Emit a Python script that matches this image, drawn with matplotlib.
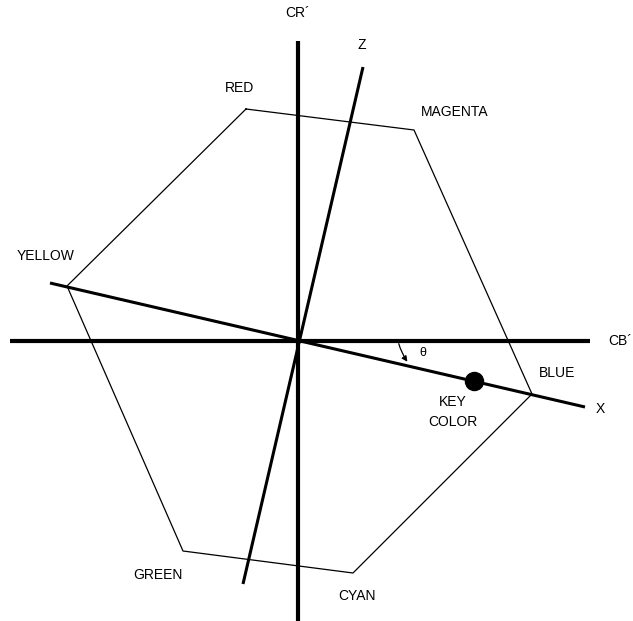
import matplotlib.pyplot as plt
import numpy as np

plt.rcParams['font.family'] = ['Liberation Sans', 'DejaVu Sans']

# hexagon of colours (diagram units, origin where CB'/CR' cross)
hex_names = ['RED', 'MAGENTA', 'BLUE', 'CYAN', 'GREEN', 'YELLOW']
hex_x = [-52, 116, 234, 55, -115, -231]
hex_y = [232, 211, -53, -232, -210, 55]
label_dx = [-6, 41, 25, 4, -25, -21]
label_dy = [21, 18, 21, -23, -24, 30]

# axes
cb_range = [-288, 292]
cr_range = [-280, 300]
x_axis_x = [-248, 287]
x_axis_y = [58, -66]
z_axis_x = [-55, 65]
z_axis_y = [-243, 274]

key_color = (176, -40)

fig = plt.figure(figsize=(6.33, 6.21), dpi=100)
ax = fig.add_axes([0, 0, 1, 1])
ax.set_xlim(-298, 335)
ax.set_ylim(-280, 341)
ax.axis('off')

hx = hex_x + [hex_x[0]]
hy = hex_y + [hex_y[0]]
ax.plot(hx, hy, color='black', lw=0.9)

ax.plot(cb_range, [0, 0], color='black', lw=3.0, solid_capstyle='butt')
ax.plot([0, 0], cr_range, color='black', lw=3.0, solid_capstyle='butt')
ax.plot(x_axis_x, x_axis_y, color='black', lw=2.2, solid_capstyle='butt')
ax.plot(z_axis_x, z_axis_y, color='black', lw=2.2, solid_capstyle='butt')

ax.plot(*key_color, 'o', color='black', markersize=13)

fs = 10
for n, x, y, dx, dy in zip(hex_names, hex_x, hex_y, label_dx, label_dy):
    ax.text(x + dx, y + dy, n, fontsize=fs, ha='center', va='center')

ax.text(0, 328, 'CR\u00b4', fontsize=fs, ha='center', va='center')
ax.text(322, 0, 'CB\u00b4', fontsize=fs, ha='center', va='center')
ax.text(64, 296, 'Z', fontsize=fs, ha='center', va='center')
ax.text(302, -68, 'X', fontsize=fs, ha='center', va='center')
ax.text(155, -71, 'KEY\nCOLOR', fontsize=fs, ha='center', va='center', linespacing=1.5)
ax.text(125, -12, '\u03b8', fontsize=9, ha='center', va='center')

ax.annotate('', xy=(111, -23), xytext=(100, 0),
            arrowprops=dict(arrowstyle='-|>', color='black', lw=0.9,
                            mutation_scale=8,
                            connectionstyle='arc3,rad=0.1'))

fig.savefig('out.png', dpi=100)
